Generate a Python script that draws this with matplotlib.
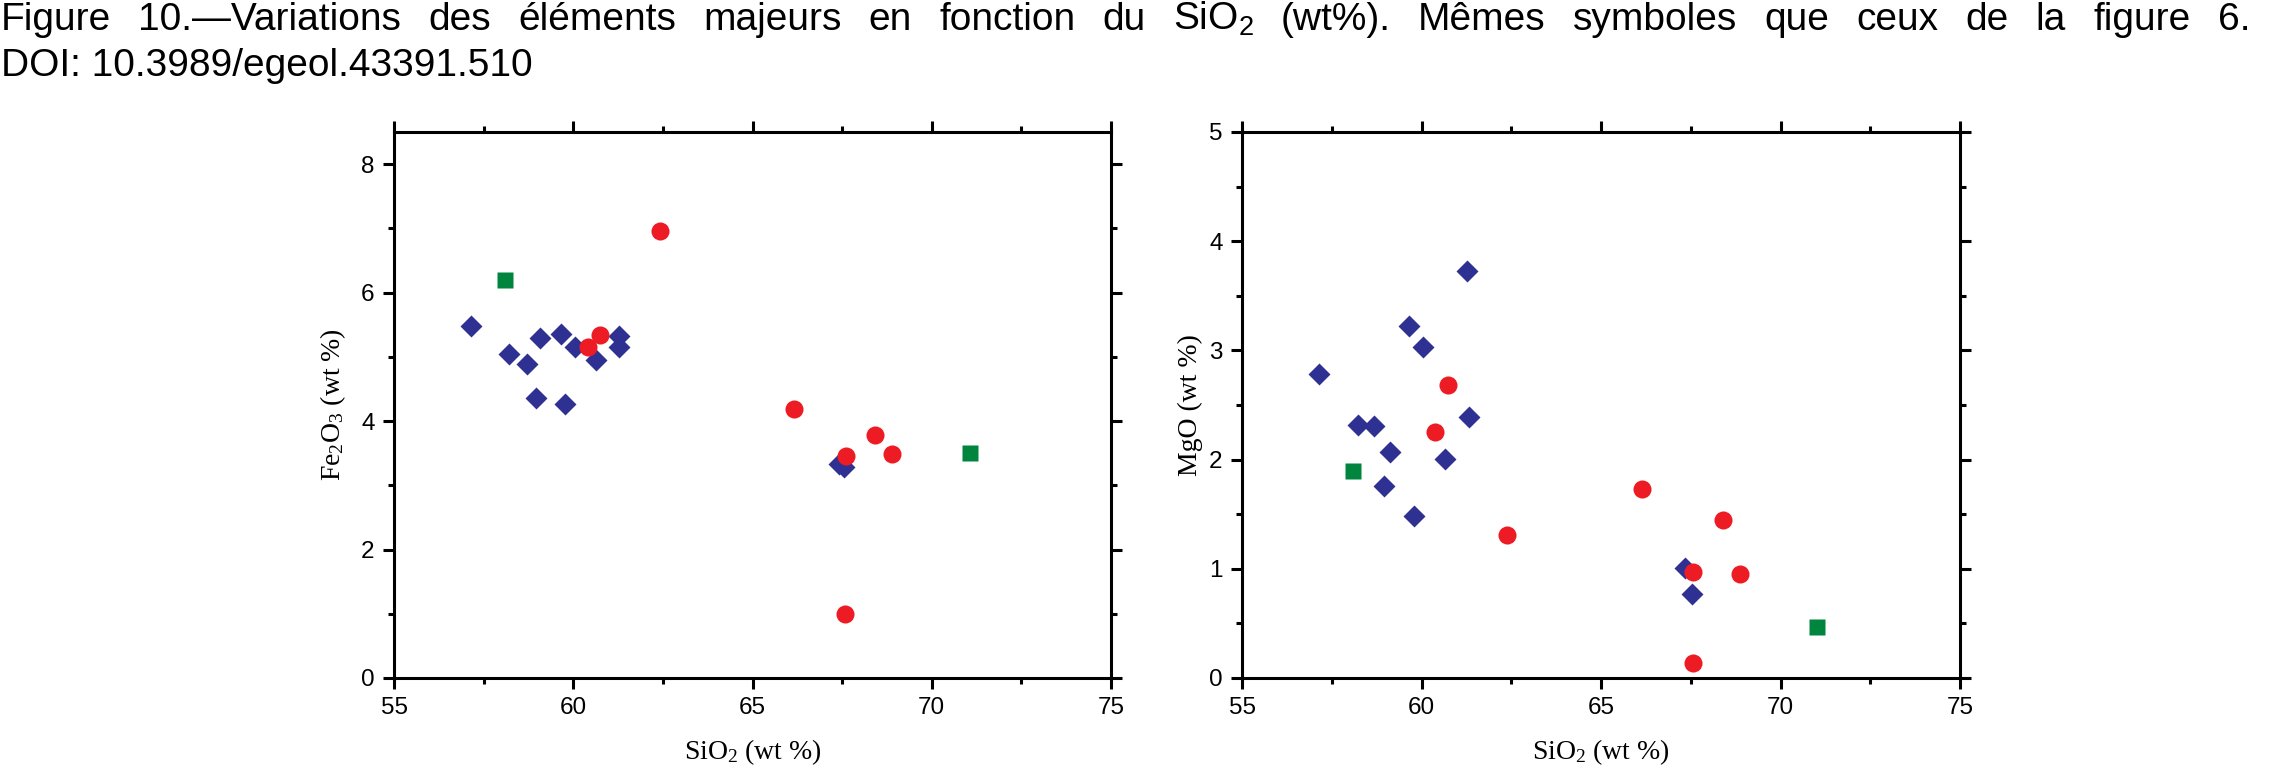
import matplotlib
matplotlib.use("Agg")
import matplotlib.pyplot as plt
from matplotlib.ticker import MultipleLocator

plt.rcParams['mathtext.default'] = 'regular'

# ---------------- data ----------------
title_line1 = "Figure 10.\u2014Variations des \u00e9l\u00e9ments majeurs en fonction du SiO$_2$ (wt%). M\u00eames symboles que ceux de la figure 6."
title_line2 = "DOI: 10.3989/egeol.43391.510"

xlabel = "SiO$_2$ (wt %)"
ylabel_fe = "Fe$_2$O$_3$ (wt %)"
ylabel_mg = "MgO (wt %)"

# Fe2O3 panel
fe_diamond_x = [57.15, 58.22, 58.71, 59.08, 58.96, 59.66, 59.77, 60.04, 60.64, 61.28, 61.28, 67.40, 67.56]
fe_diamond_y = [5.48, 5.04, 4.89, 5.29, 4.36, 5.35, 4.27, 5.16, 4.95, 5.32, 5.15, 3.33, 3.28]
fe_circle_x = [62.41, 60.40, 60.75, 66.16, 68.43, 68.89, 67.60, 67.59]
fe_circle_y = [6.96, 5.15, 5.34, 4.18, 3.78, 3.48, 3.45, 1.00]
fe_square_x = [58.10, 71.08]
fe_square_y = [6.19, 3.51]

# MgO panel
mg_diamond_x = [57.14, 58.22, 58.67, 59.11, 58.95, 59.65, 60.04, 59.78, 60.65, 61.26, 61.31, 67.35, 67.53]
mg_diamond_y = [2.78, 2.32, 2.31, 2.07, 1.76, 3.22, 3.03, 1.48, 2.01, 3.73, 2.39, 1.01, 0.77]
mg_circle_x = [60.74, 60.37, 62.38, 66.14, 68.40, 68.86, 67.57, 67.56]
mg_circle_y = [2.68, 2.25, 1.31, 1.73, 1.45, 0.95, 0.97, 0.14]
mg_square_x = [58.09, 71.03]
mg_square_y = [1.90, 0.47]

x_ticks = [55, 60, 65, 70, 75]
fe_ticks = [0, 2, 4, 6, 8]
mg_ticks = [0, 1, 2, 3, 4, 5]

# ---------------- style ----------------
NAVY = '#2E3192'
RED = '#ED1C24'
GREEN = '#00853F'
SANS = 'Liberation Sans'
SERIF = 'Liberation Serif'

W, H = 2294, 771
fig = plt.figure(figsize=(W / 100, H / 100), dpi=100)

def ax_rect(x0, x1, y0, y1):
    return [x0 / W, 1 - y1 / H, (x1 - x0) / W, (y1 - y0) / H]

ax1 = fig.add_axes(ax_rect(394, 1111, 132, 678))
ax2 = fig.add_axes(ax_rect(1242, 1960, 132, 678))

def style(ax, ymax, yticks, yminor, ylabel, ylab_x):
    ax.set_xlim(55, 75)
    ax.set_ylim(0, ymax)
    ax.set_xticks(x_ticks)
    ax.set_yticks(yticks)
    ax.xaxis.set_minor_locator(MultipleLocator(2.5))
    ax.yaxis.set_minor_locator(MultipleLocator(yminor))
    for s in ax.spines.values():
        s.set_linewidth(2.2)
    ax.tick_params(which='both', direction='out', top=True, right=True,
                   labeltop=False, labelright=False, width=2.2)
    ax.tick_params(which='major', length=8, labelsize=17.5, pad=6)
    ax.tick_params(which='minor', length=4)
    for lab in ax.get_xticklabels() + ax.get_yticklabels():
        lab.set_fontfamily(SANS)
    ax.set_xlabel(xlabel, fontfamily=SERIF, fontsize=20)
    ax.set_ylabel(ylabel, fontfamily=SERIF, fontsize=20)
    ax.xaxis.set_label_coords(0.5, -0.108)
    ax.yaxis.set_label_coords(ylab_x, 0.5)

style(ax1, 8.5, fe_ticks, 1, ylabel_fe, -0.064)
style(ax2, 5, mg_ticks, 0.5, ylabel_mg, -0.054)

def draw(ax, dx, dy, cx, cy, sx, sy):
    ax.plot(dx, dy, ls='none', marker='D', ms=11.5, color=NAVY, mec='none', clip_on=False, zorder=3)
    ax.plot(cx, cy, ls='none', marker='o', ms=13, color=RED, mec='none', clip_on=False, zorder=4)
    ax.plot(sx, sy, ls='none', marker='s', ms=11, color=GREEN, mec='none', clip_on=False, zorder=5)

draw(ax1, fe_diamond_x, fe_diamond_y, fe_circle_x, fe_circle_y, fe_square_x, fe_square_y)
draw(ax2, mg_diamond_x, mg_diamond_y, mg_circle_x, mg_circle_y, mg_square_x, mg_square_y)

# ---- caption: first line justified to the column width, second line left ----
TITLE_FS = 28
left_px, right_px = 1, 2250
renderer = fig.canvas.get_renderer()
words = title_line1.split(' ')
texts = []
widths = []
for w in words:
    t = fig.text(0, 1 - 30 / H, w, fontfamily=SANS, fontsize=TITLE_FS, va='baseline', ha='left')
    texts.append(t)
    widths.append(t.get_window_extent(renderer).width)
gap = (right_px - left_px - sum(widths)) / (len(words) - 1)
x = left_px
for t, wd in zip(texts, widths):
    t.set_x(x / W)
    x += wd + gap

fig.text(left_px / W, 1 - 76 / H, title_line2, fontfamily=SANS, fontsize=TITLE_FS, va='baseline', ha='left')

fig.savefig('out.png', dpi=100)
